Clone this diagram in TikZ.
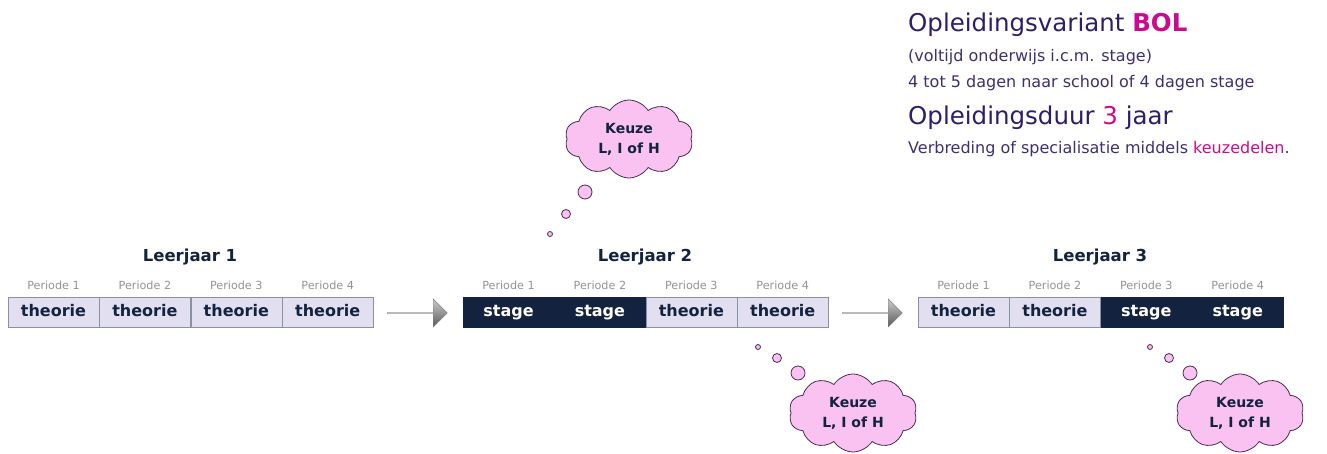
\documentclass[tikz,border=0pt]{standalone}
\usepackage{fontspec}
\setmainfont{DejaVu Sans}
\usetikzlibrary{shapes.symbols,shapes.arrows,positioning}

\definecolor{navy}{HTML}{13233F}
\definecolor{cellfill}{HTML}{E1DFF0}
\definecolor{cellline}{HTML}{8A90A4}
\definecolor{headtext}{HTML}{2B1F6B}
\definecolor{bodytext}{HTML}{3A3170}
\definecolor{accent}{HTML}{CC0A8F}
\definecolor{cloudfill}{HTML}{F9C2F1}
\definecolor{cloudline}{HTML}{4A2E55}

\tikzset{
    cell/.style={draw=cellline, fill=cellfill, minimum width=91pt, minimum height=30pt,
        inner sep=0pt, text height=12pt, text depth=3.5pt,
        font=\bfseries\fontsize{16}{16}\selectfont, text=navy},
    stagecell/.style={cell, fill=navy, draw=navy, text=white},
    period/.style={font=\fontsize{11.2}{12}\selectfont, text=gray!85, inner sep=1pt},
    year/.style={font=\bfseries\fontsize{16.5}{16.5}\selectfont, text=navy},
    keuze/.style={cloud, cloud puffs=10, cloud puff arc=115, aspect=1.7, draw=cloudline,
        line width=0.8pt, fill=cloudfill, minimum width=128pt, minimum height=78pt,
        inner sep=0pt, align=center, font=\bfseries\fontsize{14}{20}\selectfont, text=navy},
    bubble/.style={circle, draw=cloudline, line width=0.8pt, fill=cloudfill, inner sep=0pt},
    nextarrow/.style={single arrow, single arrow head extend=6pt, minimum height=60pt,
        minimum width=28pt, inner sep=0pt, draw=gray, top color=gray!40, bottom color=black!65},
    headline/.style={anchor=base west, inner sep=0pt, text=headtext, font=\fontsize{24.5}{24.5}\selectfont},
    bodyline/.style={anchor=base west, inner sep=0pt, text=bodytext, font=\fontsize{16}{16}\selectfont}
}

\begin{document}
\begin{tikzpicture}[x=1pt,y=-1pt]
    \useasboundingbox (0,0) rectangle (1327,454);
    % Leerjaar 1
    \node[cell] (a1) at (53.5,312) {theorie};
    \node[cell,right=0pt of a1] (a2) {theorie};
    \node[cell,right=0pt of a2] (a3) {theorie};
    \node[cell,right=0pt of a3] (a4) {theorie};
    \node[period,above=6pt of a1] (pa1) {Periode 1};
    \node[period,above=6pt of a2] (pa2) {Periode 2};
    \node[period,above=6pt of a3] (pa3) {Periode 3};
    \node[period,above=6pt of a4] (pa4) {Periode 4};
    \node[year] (y1) at (190,257) {Leerjaar 1};
    \node[nextarrow] (n1) at (417,313) {};
    % Leerjaar 2
    \node[stagecell] (b1) at (508.5,312) {stage};
    \node[stagecell,right=0pt of b1] (b2) {stage};
    \node[cell,right=0pt of b2] (b3) {theorie};
    \node[cell,right=0pt of b3] (b4) {theorie};
    \node[period,above=6pt of b1] (pb1) {Periode 1};
    \node[period,above=6pt of b2] (pb2) {Periode 2};
    \node[period,above=6pt of b3] (pb3) {Periode 3};
    \node[period,above=6pt of b4] (pb4) {Periode 4};
    \node[year] (y2) at (645,257) {Leerjaar 2};
    \node[nextarrow] (n2) at (872,313) {};
    % Leerjaar 3
    \node[cell] (c1) at (963.5,312) {theorie};
    \node[cell,right=0pt of c1] (c2) {theorie};
    \node[stagecell,right=0pt of c2] (c3) {stage};
    \node[stagecell,right=0pt of c3] (c4) {stage};
    \node[period,above=6pt of c1] (pc1) {Periode 1};
    \node[period,above=6pt of c2] (pc2) {Periode 2};
    \node[period,above=6pt of c3] (pc3) {Periode 3};
    \node[period,above=6pt of c4] (pc4) {Periode 4};
    \node[year] (y3) at (1100,257) {Leerjaar 3};
    % Keuze clouds with their bubbles
    \node[keuze] (k1) at (629,139) {Keuze\\L, I of H};
    \node[bubble,minimum size=14pt] (k1a) at (585,192) {};
    \node[bubble,minimum size=9pt] (k1b) at (566,214) {};
    \node[bubble,minimum size=5pt] (k1c) at (550,234) {};
    \node[keuze] (k2) at (853,413) {Keuze\\L, I of H};
    \node[bubble,minimum size=5pt] (k2a) at (758,347) {};
    \node[bubble,minimum size=9pt] (k2b) at (777,358) {};
    \node[bubble,minimum size=14pt] (k2c) at (798,373) {};
    \node[keuze] (k3) at (1240,413) {Keuze\\L, I of H};
    \node[bubble,minimum size=5pt] (k3a) at (1150,347) {};
    \node[bubble,minimum size=9pt] (k3b) at (1169,358) {};
    \node[bubble,minimum size=14pt] (k3c) at (1190,373) {};
    % Opleidingsvariant
    \node[headline] (bol) at (908,32) {Opleidingsvariant \textcolor{accent}{\bfseries BOL}};
    \node[bodyline] (vol) at (908,62) {(voltijd onderwijs i.c.m. stage)};
    \node[bodyline] (dag) at (908,88) {4 tot 5 dagen naar school of 4 dagen stage};
    \node[headline] (duur) at (908,125) {Opleidingsduur \textcolor{accent}{3} jaar};
    \node[bodyline] (keu) at (908,154) {Verbreding of specialisatie middels \textcolor{accent}{keuzedelen}.};
\end{tikzpicture}
\end{document}
